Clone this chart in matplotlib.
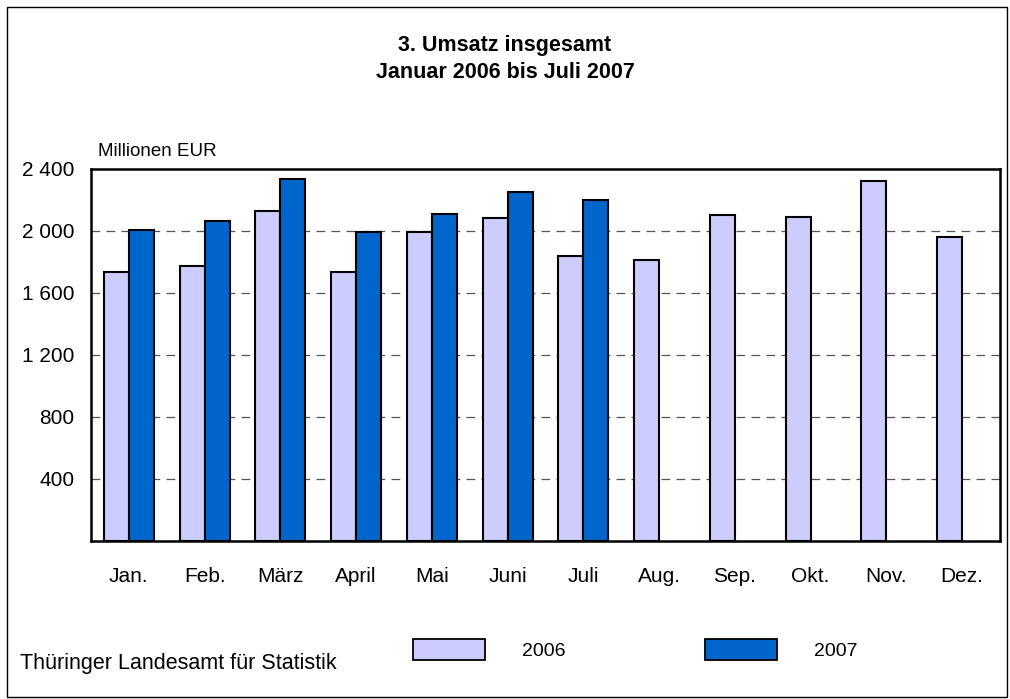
import matplotlib
matplotlib.use('Agg')
import matplotlib.pyplot as plt
import matplotlib.patches as mpatches
import numpy as np

plt.rcParams['font.family'] = ['Liberation Sans', 'DejaVu Sans']

months = ['Jan.', 'Feb.', 'März', 'April', 'Mai', 'Juni', 'Juli',
          'Aug.', 'Sep.', 'Okt.', 'Nov.', 'Dez.']
umsatz_2006 = [1733, 1776, 2129, 1733, 1994, 2082, 1841, 1813, 2103, 2092, 2325, 1961]
umsatz_2007 = [2006, 2067, 2333, 1994, 2110, 2252, 2198]
yticks = [400, 800, 1200, 1600, 2000, 2400]
ytick_labels = ['400', '800', '1 200', '1 600', '2 000', '2 400']

c2006 = '#CCCCFF'
c2007 = '#0066CC'

fig = plt.figure(figsize=(10.1, 6.99), dpi=100)
ax = fig.add_axes([91/1010, 1 - 541/699, 909/1010, 372/699])

x = np.arange(len(months))
w = 0.33
ax.bar(x - w/2, umsatz_2006, width=w, color=c2006, edgecolor='black', linewidth=1.5, zorder=3)
ax.bar(x[:len(umsatz_2007)] + w/2, umsatz_2007, width=w, color=c2007, edgecolor='black',
       linewidth=1.5, zorder=3)

ax.set_xlim(-0.5, len(months) - 0.5)
ax.set_ylim(0, 2400)
ax.set_yticks(yticks)
ax.set_yticklabels(ytick_labels, fontsize=15)
ax.set_xticks(x)
ax.set_xticklabels(months, fontsize=15)
ax.tick_params(length=0)
ax.tick_params(axis='x', pad=19)
ax.tick_params(axis='y', pad=12)
for t in yticks[:-1]:
    ax.axhline(t, color='#555555', linewidth=0.9, dashes=(7, 5), zorder=1)
for s in ax.spines.values():
    s.set_linewidth(1.8)

fig.text(505/1010, 1 - 45/699, '3. Umsatz insgesamt', ha='center', va='center',
         fontsize=15.5, fontweight='bold')
fig.text(505/1010, 1 - 73/699, 'Januar 2006 bis Juli 2007', ha='center', va='center',
         fontsize=15.5, fontweight='bold')
fig.text(98/1010, 1 - 152/699, 'Millionen EUR', ha='left', va='center', fontsize=13.5)
fig.text(20/1010, 1 - 663/699, 'Thüringer Landesamt für Statistik', ha='left', va='center',
         fontsize=15.5)

# legend
for x0, col, lab in [(413, c2006, '2006'), (705, c2007, '2007')]:
    fig.patches.append(mpatches.Rectangle((x0/1010, 1 - 660/699), 72/1010, 21/699,
                                          transform=fig.transFigure, facecolor=col,
                                          edgecolor='black', linewidth=1.3))
    fig.text((x0 + 109)/1010, 1 - 651/699, lab, ha='left', va='center', fontsize=14)

# outer frame
fig.patches.append(mpatches.Rectangle((7/1010, 2/699), 1000/1010, 690/699,
                                      transform=fig.transFigure, fill=False,
                                      edgecolor='black', linewidth=1))

fig.savefig('out.png', dpi=100)
